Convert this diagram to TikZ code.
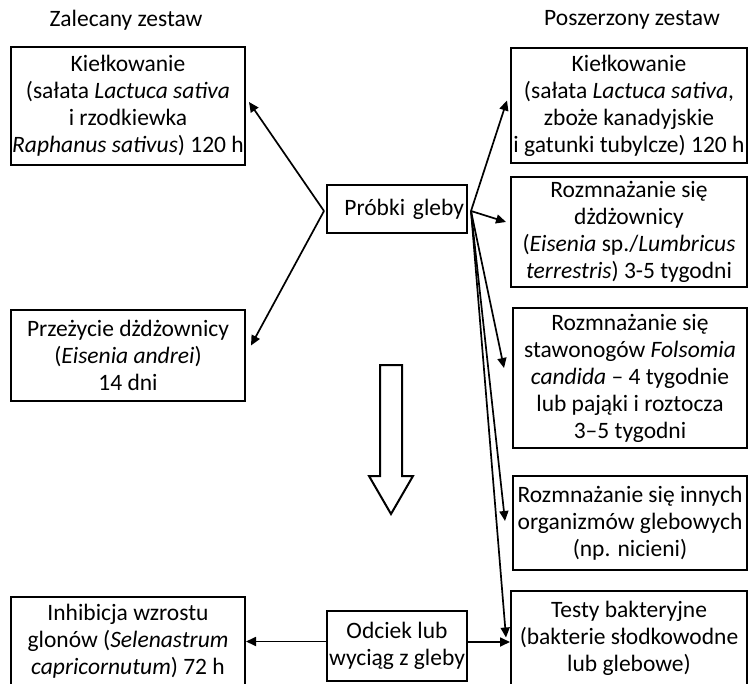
\documentclass[tikz,border=0pt]{standalone}
\usepackage{fontspec}
\setmainfont{Carlito}
\usetikzlibrary{arrows.meta,calc}
\begin{document}
\begin{tikzpicture}[x=1pt,y=-1pt,
  txt/.style={font=\fontsize{23.5}{27}\selectfont},
  box/.style={txt,draw,line width=2pt,inner sep=0pt,align=center},
  lbl/.style={txt,inner sep=0pt},
  arr/.style={line width=1.7pt,-{Triangle[length=10pt,width=9pt]}}]
\useasboundingbox (0,0) rectangle (749,684);
% titles
\node[lbl] (t1) at (126,20) {Zalecany zestaw};
\node[lbl] (t2) at (632,20) {Poszerzony zestaw};
% left column
\node[box,minimum width=234pt,minimum height=118pt] (l1) at (128,106)
  {Kiełkowanie\\(sałata \textit{Lactuca sativa}\\i rzodkiewka\\\textit{Raphanus sativus}) 120 h};
\node[box,minimum width=234pt,minimum height=91pt] (l2) at (128,355.5)
  {Przeżycie dżdżownicy\\(\textit{Eisenia andrei})\\14 dni};
\node[box,minimum width=234pt,minimum height=89pt] (l3) at (128,641.5)
  {Inhibicja wzrostu\\glonów (\textit{Selenastrum}\\\textit{capricornutum}) 72 h};
% centre
\node[box,minimum height=48pt,text width=134pt,inner xsep=3pt,align=right] (p) at (397,209) {Próbki gleby};
\node[box,minimum width=140pt,minimum height=70pt] (o) at (397,646)
  {Odciek lub\\wyciąg z gleby};
% right column
\node[box,minimum width=236pt,minimum height=115pt] (r1) at (629,105.5)
  {Kiełkowanie\\(sałata \textit{Lactuca sativa},\\zboże kanadyjskie\\i gatunki tubylcze) 120 h};
\node[box,minimum width=236pt,minimum height=110pt] (r2) at (629,232)
  {Rozmnażanie się\\dżdżownicy\\(\textit{Eisenia} sp./\textit{Lumbricus}\\\textit{terrestris}) 3-5 tygodni};
\node[box,minimum width=234pt,minimum height=140pt] (r3) at (630,378)
  {Rozmnażanie się\\stawonogów \textit{Folsomia}\\\textit{candida} – 4 tygodnie\\lub pająki i roztocza\\3–5 tygodni};
\node[box,minimum width=234pt,minimum height=94pt] (r4) at (630,523)
  {Rozmnażanie się innych\\organizmów glebowych\\(np. nicieni)};
\node[box,minimum width=236pt,minimum height=95pt] (r5) at (629,638.5)
  {Testy bakteryjne\\(bakterie słodkowodne\\lub glebowe)};
% branch points
\coordinate (pl) at ($(p.west)+(-2,2)$);
\coordinate (pr) at ($(p.east)+(3,2)$);
% arrows
\draw[arr] (pl) -- ($(l1.east)+(3,-4)$);
\draw[arr] (pl) -- ($(l2.east)+(5,-10)$);
\draw[arr] (pr) -- ($(r1.west)+(-3,-5)$);
\draw[arr] (pr) -- ($(r2.west)+(-4,-10)$);
\draw[arr] (pr) -- ($(r3.west)+(-8,-10)$);
\draw[arr] (pr) -- ($(r4.west)+(-7,-2)$);
\draw[arr] (pr) -- ($(r5.west)+(-4,-1)$);
\draw[arr] (o.west|-l3.east) -- (l3.east);
\draw[arr] (o.east|-0,642) -- (r5.west|-0,642);
% hollow down arrow
\draw[line width=2pt,fill=white] (380,365) -- (402,365) -- (402,476) -- (413,476)
  -- (391,514) -- (369,476) -- (380,476) -- cycle;
\end{tikzpicture}
\end{document}
